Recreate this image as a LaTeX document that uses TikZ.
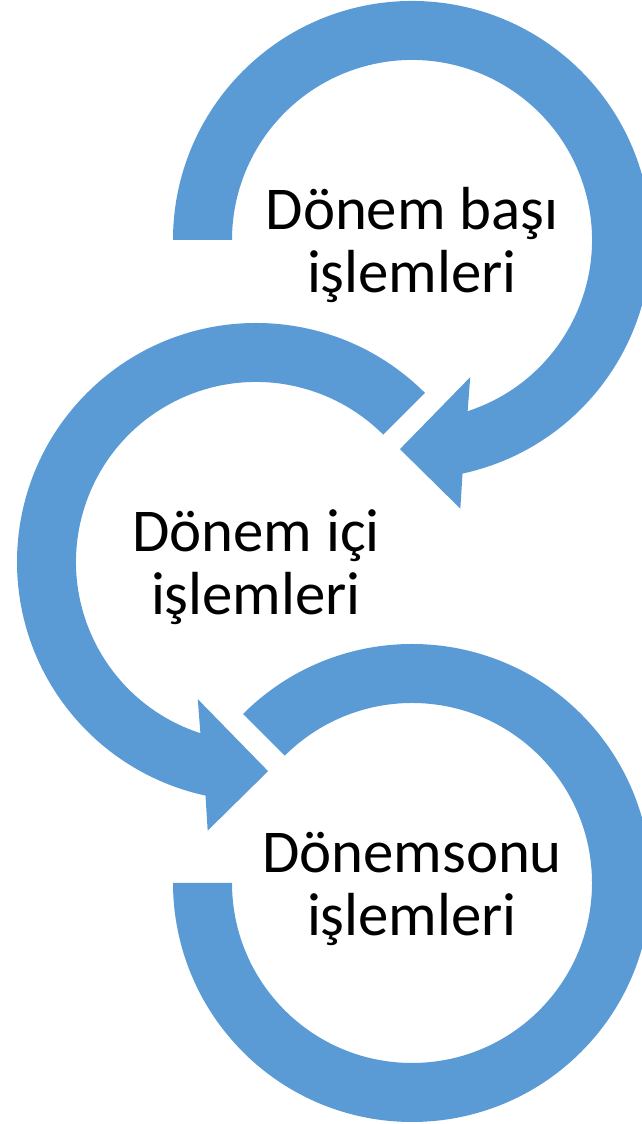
\documentclass[tikz,border=0pt]{standalone}
\usepackage{fontspec}
\setmainfont{Carlito}
\definecolor{ringblue}{HTML}{5B9BD5}
\tikzset{ring/.style={fill=ringblue, draw=none},
         phase/.style={font=\fontsize{17.3}{18.2}\selectfont, align=center,
                       inner sep=0pt, anchor=base} }

\begin{document}
\begin{tikzpicture}
    \useasboundingbox (0,0) rectangle (6.41,11.24);
    \coordinate (c1) at (4.12,8.84);
    \coordinate (c2) at (2.56,5.62);
    \coordinate (c3) at (4.12,2.41);
    % top ring, arrow into the middle one
    \fill[ring, shift={(c1)}] (180:2.39) arc[start angle=180, end angle=-77.8, radius=2.39]
        -- (-79.8:2.73) -- (-93.3:2.095) -- (-67:1.49) -- (-72:1.80)
        arc[start angle=-72, end angle=180, radius=1.80] -- cycle;
    % middle ring, arrow into the bottom one
    \fill[ring, shift={(c2)}] (45:2.39) arc[start angle=45, end angle=257.8, radius=2.39]
        -- (259.8:2.73) -- (273.3:2.095) -- (247:1.49) -- (252:1.80)
        arc[start angle=252, end angle=45, radius=1.80] -- cycle;
    % bottom ring
    \fill[ring, shift={(c3)}] (135:2.39) arc[start angle=135, end angle=-180, radius=2.39]
        -- (-180:1.80) arc[start angle=-180, end angle=135, radius=1.80] -- cycle;
    \node[phase] (t1) at ([yshift=-0.53cm]c1) {Dönem başı\\işlemleri};
    \node[phase] (t2) at ([yshift=-0.53cm]c2) {Dönem içi\\işlemleri};
    \node[phase] (t3) at ([yshift=-0.53cm]c3) {Dönemsonu\\işlemleri};
\end{tikzpicture}
\end{document}
